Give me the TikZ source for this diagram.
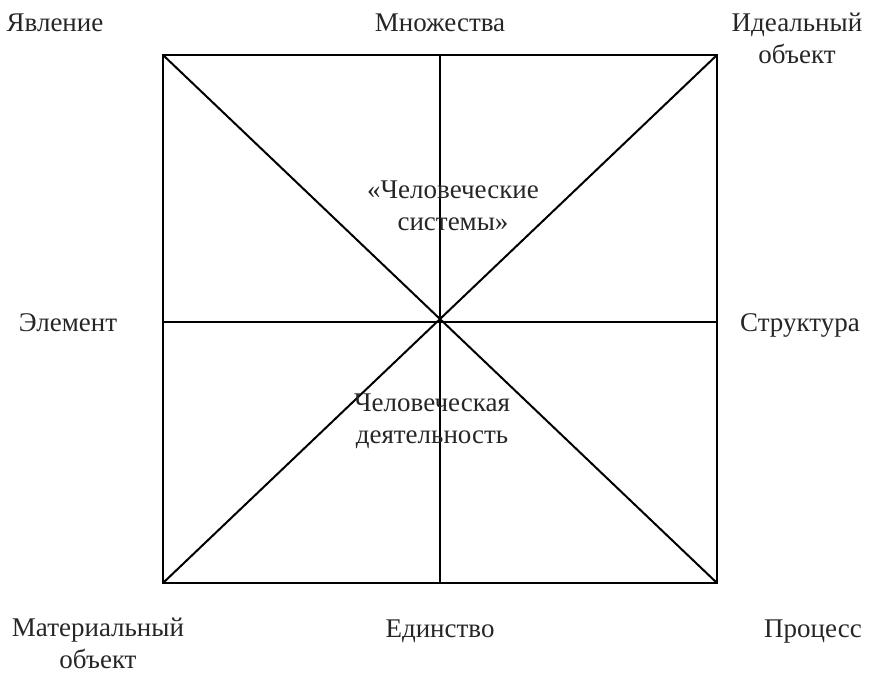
\documentclass[tikz,border=0pt]{standalone}
\usepackage{fontspec}
\setmainfont{Liberation Serif}
\begin{document}
\begin{tikzpicture}[x=1pt,y=-1pt,
  lbl/.style={align=center,inner sep=0pt,font=\fontsize{27}{32}\selectfont,text=black!85},
  ln/.style={line width=2pt,black}]
\useasboundingbox (0,0) rectangle (873,673);
\coordinate (tl) at (163,55);
\coordinate (tr) at (717,55);
\coordinate (bl) at (163,583);
\coordinate (br) at (717,583);
\coordinate (tm) at (440,55);
\coordinate (bm) at (440,583);
\coordinate (lm) at (163,322);
\coordinate (rm) at (717,322);
\draw[ln] (tl) -- (tr) -- (br) -- (bl) -- cycle;
\draw[ln] (tl) -- (br);
\draw[ln] (tr) -- (bl);
\draw[ln] (tm) -- (bm);
\draw[ln] (lm) -- (rm);
\node[lbl,anchor=base] (a) at (55,31) {Явление};
\node[lbl,anchor=base] (b) at (440,31) {Множества};
\node[lbl] (c) at (797,38) {Идеальный\\объект};
\node[lbl,anchor=base] (d) at (68,331) {Элемент};
\node[lbl,anchor=base] (e) at (800,331) {Структура};
\node[lbl] (f) at (453,206) {«Человеческие\\системы»};
\node[lbl] (g) at (432,421) {Человеческая\\деятельность};
\node[lbl] (h) at (98,643) {Материальный\\объект};
\node[lbl,anchor=base] (i) at (440,637) {Единство};
\node[lbl,anchor=base] (j) at (813,637) {Процесс};
\end{tikzpicture}
\end{document}
